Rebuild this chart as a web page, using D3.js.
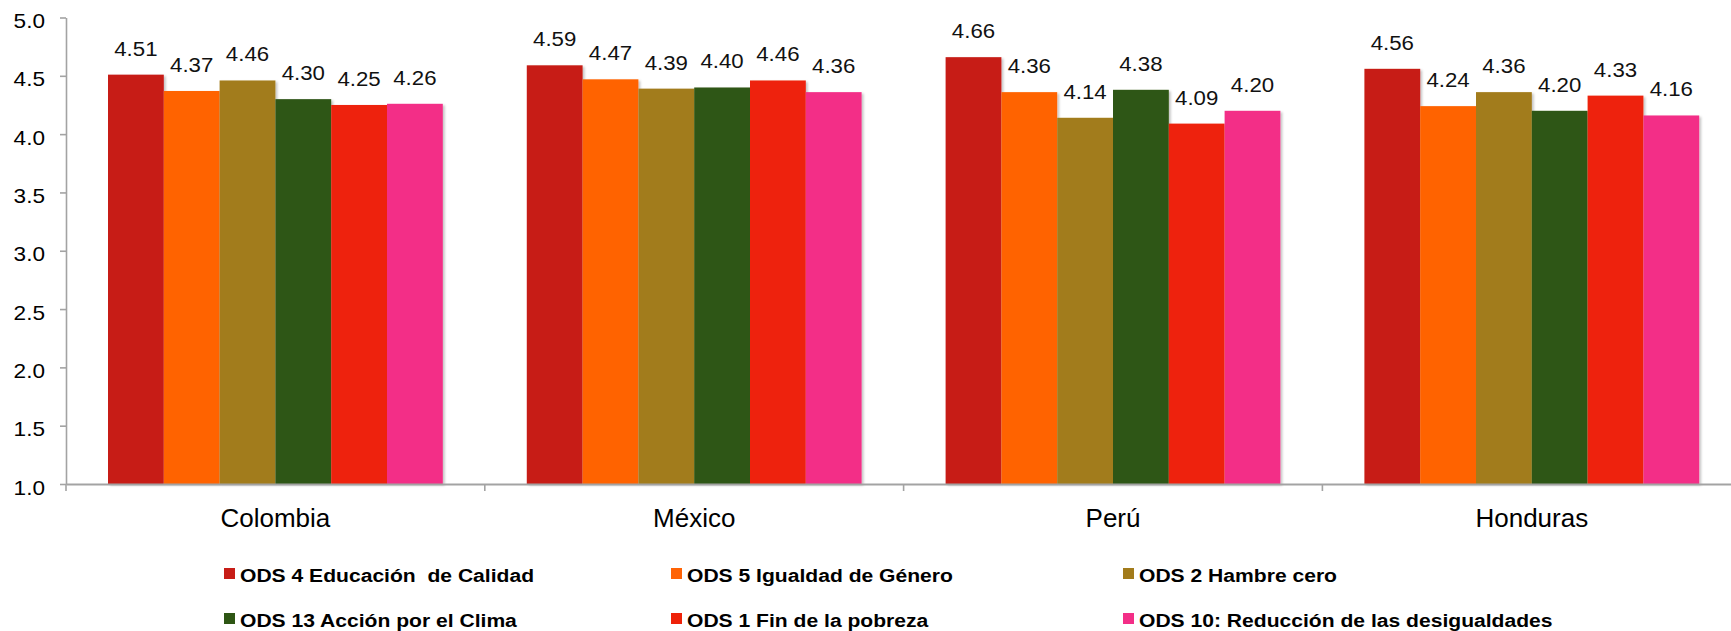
<!DOCTYPE html>
<html>
<head>
<meta charset="utf-8">
<script src="https://cdn.jsdelivr.net/npm/d3@7"></script>
<style>
  html, body { margin: 0; padding: 0; background: #fff; }
  svg { display: block; font-family: "Liberation Sans", Arial, Helvetica, sans-serif; }
  text { white-space: pre; }
</style>
</head>
<body>
<svg id="chart" width="1731" height="631"></svg>
<script>
// ---- data ----
const categories = ["Colombia", "México", "Perú", "Honduras"];
const seriesNames = [
  "ODS 4 Educación  de Calidad",
  "ODS 5 Igualdad de Género",
  "ODS 2 Hambre cero",
  "ODS 13 Acción por el Clima",
  "ODS 1 Fin de la pobreza",
  "ODS 10: Reducción de las desigualdades"
];
const ods4  = [4.51, 4.59, 4.66, 4.56];
const ods5  = [4.37, 4.47, 4.36, 4.24];
const ods2  = [4.46, 4.39, 4.14, 4.36];
const ods13 = [4.30, 4.40, 4.38, 4.20];
const ods1  = [4.25, 4.46, 4.09, 4.33];
const ods10 = [4.26, 4.36, 4.20, 4.16];
const seriesValues = [ods4, ods5, ods2, ods13, ods1, ods10];
const seriesColors = ["#C71D17", "#FF6305", "#A27B1B", "#2E5614", "#EE2209", "#F32E87"];
const yTicks = [1.0, 1.5, 2.0, 2.5, 3.0, 3.5, 4.0, 4.5, 5.0];

// ---- layout ----
const svg = d3.select("#chart");
const plotLeft = 66, plotTop = 17.5, plotBottom = 484;
const band = 418.8;
const x0 = d3.scaleBand().domain(categories).range([plotLeft, plotLeft + band * categories.length]).padding(0);
const sidePad = 42;
const x1 = d3.scaleBand().domain(d3.range(seriesNames.length)).range([sidePad, band - sidePad]).padding(0);
const y = d3.scaleLinear().domain([1, 5]).range([plotBottom, plotTop]);

const defs = svg.append("defs");
const f = defs.append("filter").attr("id", "shadow").attr("x", "-10%").attr("y", "-10%").attr("width", "130%").attr("height", "130%");
f.append("feDropShadow").attr("dx", 2).attr("dy", 1.5).attr("stdDeviation", 1.3)
  .attr("flood-color", "#000").attr("flood-opacity", 0.22);

const axisColor = "#a3a3a3";

// ---- y axis ----
const yAxis = d3.axisLeft(y).tickValues(yTicks).tickFormat(d3.format(".1f")).tickSize(6).tickSizeOuter(0);
const gy = svg.append("g").attr("transform", `translate(${plotLeft},0)`).call(yAxis);
gy.select(".domain").attr("stroke", axisColor).attr("stroke-width", 1.6);
gy.selectAll(".tick line").attr("stroke", axisColor).attr("stroke-width", 1.6);
gy.selectAll(".tick text")
  .attr("x", 0).attr("dy", null).attr("y", 0)
  .attr("transform", "translate(-21,10) scale(1.13,1)")
  .attr("fill", "#000").style("font-size", "20px").style("font-family", "'Liberation Sans', Arial, sans-serif");

// ---- bars ----
const groups = svg.append("g").selectAll("g.cat")
  .data(categories).join("g")
  .attr("class", "cat")
  .attr("transform", d => `translate(${x0(d)},0)`);

groups.each(function(cat, ci) {
  const g = d3.select(this);
  const rows = seriesValues.map((vals, si) => ({ si, v: vals[ci] }));
  g.selectAll("rect").data(rows).join("rect")
    .attr("x", d => x1(d.si))
    .attr("y", d => y(d.v))
    .attr("width", x1.bandwidth())
    .attr("height", d => y(1) - y(d.v))
    .attr("fill", d => seriesColors[d.si])
    .attr("filter", "url(#shadow)");
  g.selectAll("text.lbl").data(rows).join("text")
    .attr("class", "lbl")
    .attr("text-anchor", "middle")
    .attr("transform", d => `translate(${x1(d.si) + x1.bandwidth() / 2},${y(d.v) - 19}) scale(1.06,1)`)
    .attr("fill", "#111")
    .style("font-size", "21px")
    .text(d => d.v.toFixed(2));
});

// ---- x axis ----
const xAxis = d3.axisBottom(x0).tickSize(0).tickSizeOuter(0);
const gx = svg.append("g").attr("transform", `translate(0,${plotBottom})`).call(xAxis);
gx.select(".domain").attr("stroke", axisColor).attr("stroke-width", 2);
gx.selectAll(".tick text")
  .attr("y", 43).attr("dy", null)
  .attr("fill", "#000").style("font-size", "26px").style("font-family", "'Liberation Sans', Arial, sans-serif");
// boundary ticks between categories
const bounds = categories.map(c => x0(c)).concat([x0.range()[1]]);
gx.selectAll("line.bound").data(bounds).join("line")
  .attr("class", "bound")
  .attr("x1", d => d).attr("x2", d => d)
  .attr("y1", 0).attr("y2", 7)
  .attr("stroke", axisColor).attr("stroke-width", 1.6);

// ---- legend ----
const legendX = [224, 671, 1123];
const legendY = [579, 624];
const lg = svg.append("g").selectAll("g.leg").data(seriesNames).join("g")
  .attr("class", "leg")
  .attr("transform", (d, i) => `translate(${legendX[i % 3]},${legendY[Math.floor(i / 3)]})`);
lg.append("rect")
  .attr("x", 0).attr("y", -11).attr("width", 11).attr("height", 11)
  .attr("fill", (d, i) => seriesColors[i]);
lg.append("text")
  .attr("transform", "translate(16,3) scale(1.11,1)")
  .attr("fill", "#000")
  .style("font-size", "19px").style("font-weight", "bold")
  .text(d => d);
</script>
</body>
</html>
